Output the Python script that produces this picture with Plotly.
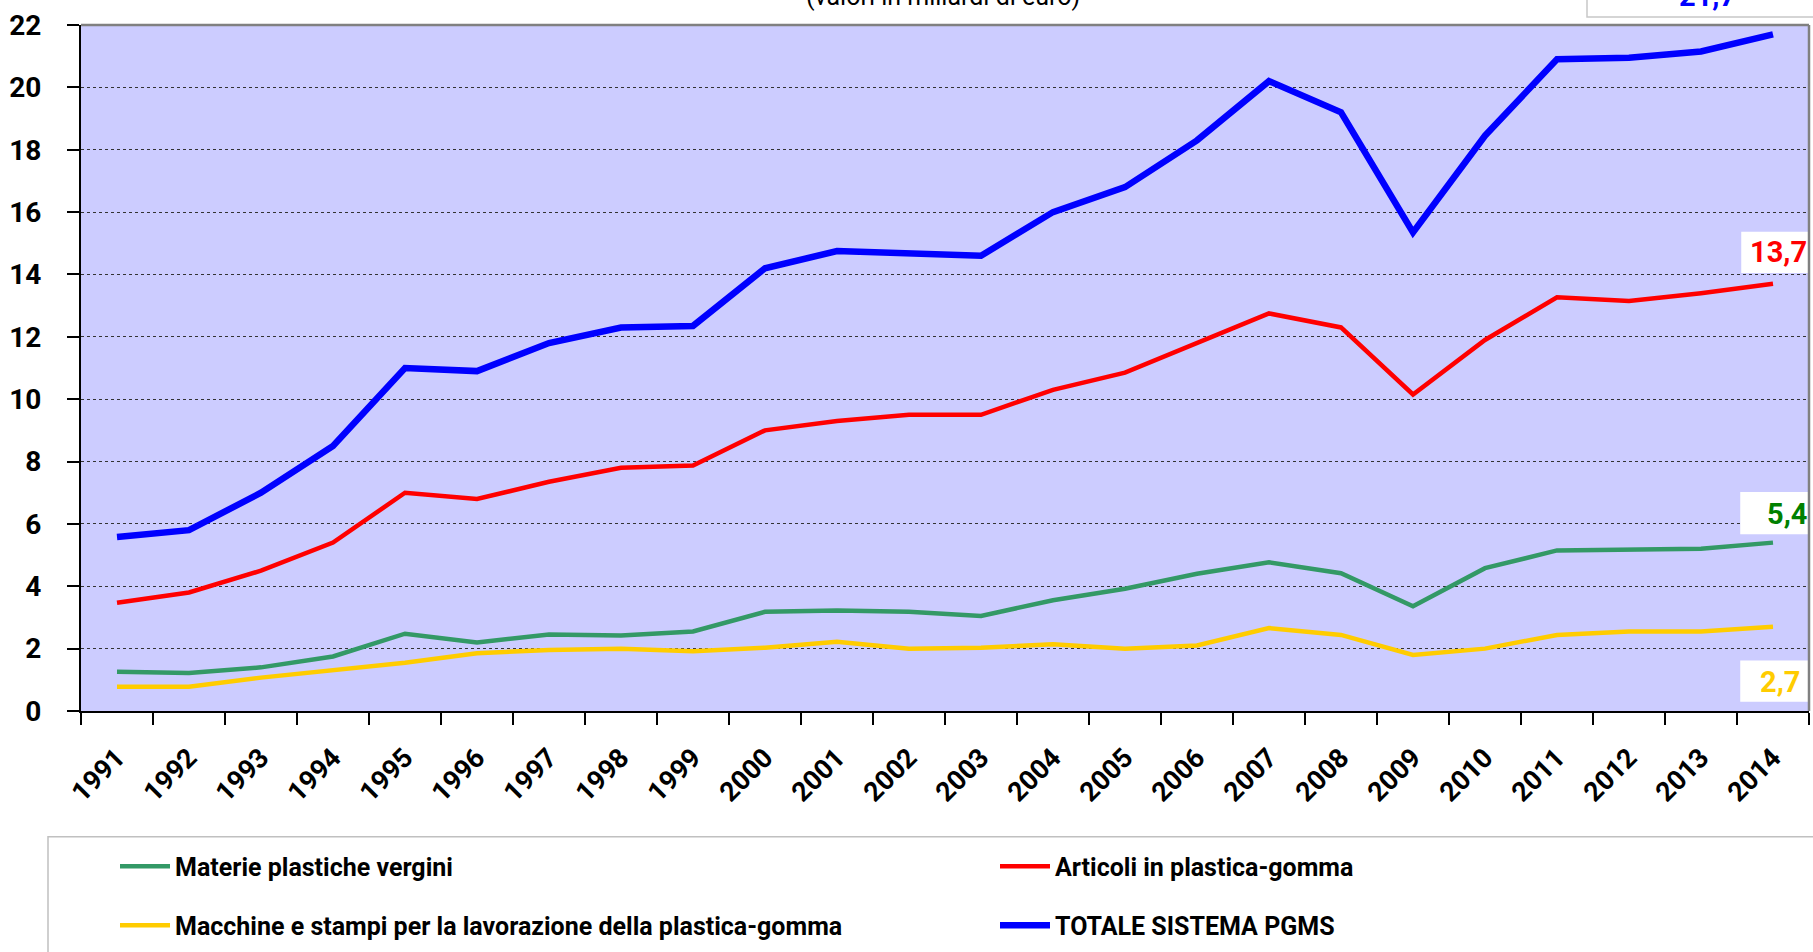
import plotly.graph_objects as go

# Export values of the plastics-rubber system, billions of euro
years = [str(y) for y in range(1991, 2015)]
materie = [1.26, 1.22, 1.40, 1.75, 2.48, 2.20, 2.45, 2.42, 2.55, 3.18, 3.22, 3.18,
           3.05, 3.55, 3.92, 4.40, 4.77, 4.42, 3.36, 4.58, 5.15, 5.18, 5.20, 5.40]
articoli = [3.47, 3.80, 4.50, 5.40, 7.00, 6.80, 7.35, 7.80, 7.87, 9.00, 9.30, 9.50,
            9.50, 10.30, 10.85, 11.80, 12.75, 12.30, 10.15, 11.90, 13.27, 13.15, 13.40, 13.70]
macchine = [0.78, 0.78, 1.07, 1.30, 1.55, 1.85, 1.96, 2.00, 1.92, 2.03, 2.22, 2.00,
            2.03, 2.14, 2.00, 2.10, 2.66, 2.44, 1.80, 2.00, 2.44, 2.55, 2.55, 2.70]
totale = [5.58, 5.80, 7.00, 8.50, 11.00, 10.90, 11.80, 12.30, 12.35, 14.20, 14.75, 14.65,
          14.60, 16.00, 16.80, 18.30, 20.20, 19.20, 15.35, 18.45, 20.90, 20.95, 21.15, 21.70]
y_ticks = list(range(0, 23, 2))

W, H = 1813, 952
L, R, T, B = 81, 4, 25, 239
PW, PH = W - L - R, H - T - B


def px(x):
    return (x - L) / PW


def py(y):
    return (H - B - y) / PH


FONT = "Roboto, Open Sans, DejaVu Sans, sans-serif"

# name, values, line colour, line width, legend id, label colour, legend position (px)
series = [
    ("Materie plastiche vergini", materie, "#339966", 4.5, "legend", "#008000", (115, 869)),
    ("Articoli in plastica-gomma", articoli, "#FF0000", 4.5, "legend2", "#FF0000", (995, 869)),
    ("Macchine e stampi per la lavorazione della plastica-gomma", macchine, "#FFCC00", 4.5,
     "legend3", "#FFCC00", (115, 928)),
    ("TOTALE SISTEMA PGMS", totale, "#0000FF", 6.5, "legend4", "#0000FF", (995, 928)),
]

fig = go.Figure()
for name, vals, col, w, leg, _, _ in series:
    fig.add_trace(go.Scatter(x=years, y=vals, name=name, mode="lines",
                             line=dict(color=col, width=w), legend=leg))

# End-of-series value boxes: (series index, box left, box top, box bottom, text x, text y)
boxes = [
    (3, 1587, -30, 17, 1707, -4),
    (1, 1742, 233, 273, 1778, 253),
    (0, 1741, 494, 535, 1787, 515),
    (2, 1741, 663, 703, 1780, 684),
]
shapes = []
annotations = []
for idx, x0, y0, y1, tx, ty in boxes:
    name, vals, col, w, leg, tcol, _ = series[idx]
    shapes.append(dict(type="rect", xref="paper", yref="paper",
                       x0=px(x0), x1=px(W + 10), y0=py(y1), y1=py(y0),
                       fillcolor="white",
                       line=dict(color="#C8C8C8" if idx == 3 else "white", width=1.5),
                       layer="above"))
    annotations.append(dict(xref="paper", yref="paper", x=px(tx), y=py(ty),
                            text=f"{vals[-1]:.1f}".replace(".", ","), showarrow=False,
                            xanchor="center", yanchor="middle",
                            font=dict(family=FONT, size=29, color=tcol, weight="bold")))

# plot frame: gray top and right edges
shapes.append(dict(type="line", xref="paper", yref="paper", x0=0, x1=1, y0=1, y1=1,
                   line=dict(color="#808080", width=2.5)))
shapes.append(dict(type="line", xref="paper", yref="paper", x0=1, x1=1, y0=0, y1=1,
                   line=dict(color="#808080", width=2.5)))
# legend frame
shapes.append(dict(type="rect", xref="paper", yref="paper",
                   x0=px(48), x1=px(W + 20), y0=py(H + 20), y1=py(839),
                   fillcolor="rgba(0,0,0,0)", line=dict(color="#C0C0C0", width=1.5)))

annotations.append(dict(xref="paper", yref="paper", x=px(943), y=py(-4),
                        text="(valori in miliardi di euro)", showarrow=False,
                        xanchor="center", yanchor="middle",
                        font=dict(family=FONT, size=25, color="black")))

legends = {}
for name, vals, col, w, leg, _, (lx, ly) in series:
    legends[leg] = dict(orientation="h", xanchor="left", yanchor="middle",
                        x=px(lx), y=py(ly),
                        bgcolor="rgba(0,0,0,0)", borderwidth=0,
                        font=dict(family=FONT, size=25, color="black", weight="bold"),
                        itemwidth=50)

fig.update_layout(
    width=W, height=H,
    margin=dict(l=L, r=R, t=T, b=B),
    paper_bgcolor="white",
    plot_bgcolor="#CCCCFF",
    shapes=shapes,
    annotations=annotations,
    showlegend=True,
    **legends,
    xaxis=dict(type="category", range=[-0.5, 23.5], tickson="boundaries",
               ticks="outside", ticklen=12, tickwidth=1.5, tickcolor="black",
               showline=True, linecolor="black", linewidth=2,
               showgrid=False, tickangle=-45, automargin=False,
               tickfont=dict(family=FONT, size=27, color="black", weight="bold"),
               ticklabelstandoff=18),
    yaxis=dict(range=[0, 22], tickvals=y_ticks, ticks="outside", ticklen=12,
               tickwidth=1.5, tickcolor="black", showline=True, linecolor="black",
               linewidth=2, showgrid=True, gridcolor="#333333", griddash="dot",
               gridwidth=1, zeroline=False, automargin=False,
               tickfont=dict(family=FONT, size=28, color="black", weight="bold"),
               ticklabelstandoff=20),
)

fig.write_html("out.html")
